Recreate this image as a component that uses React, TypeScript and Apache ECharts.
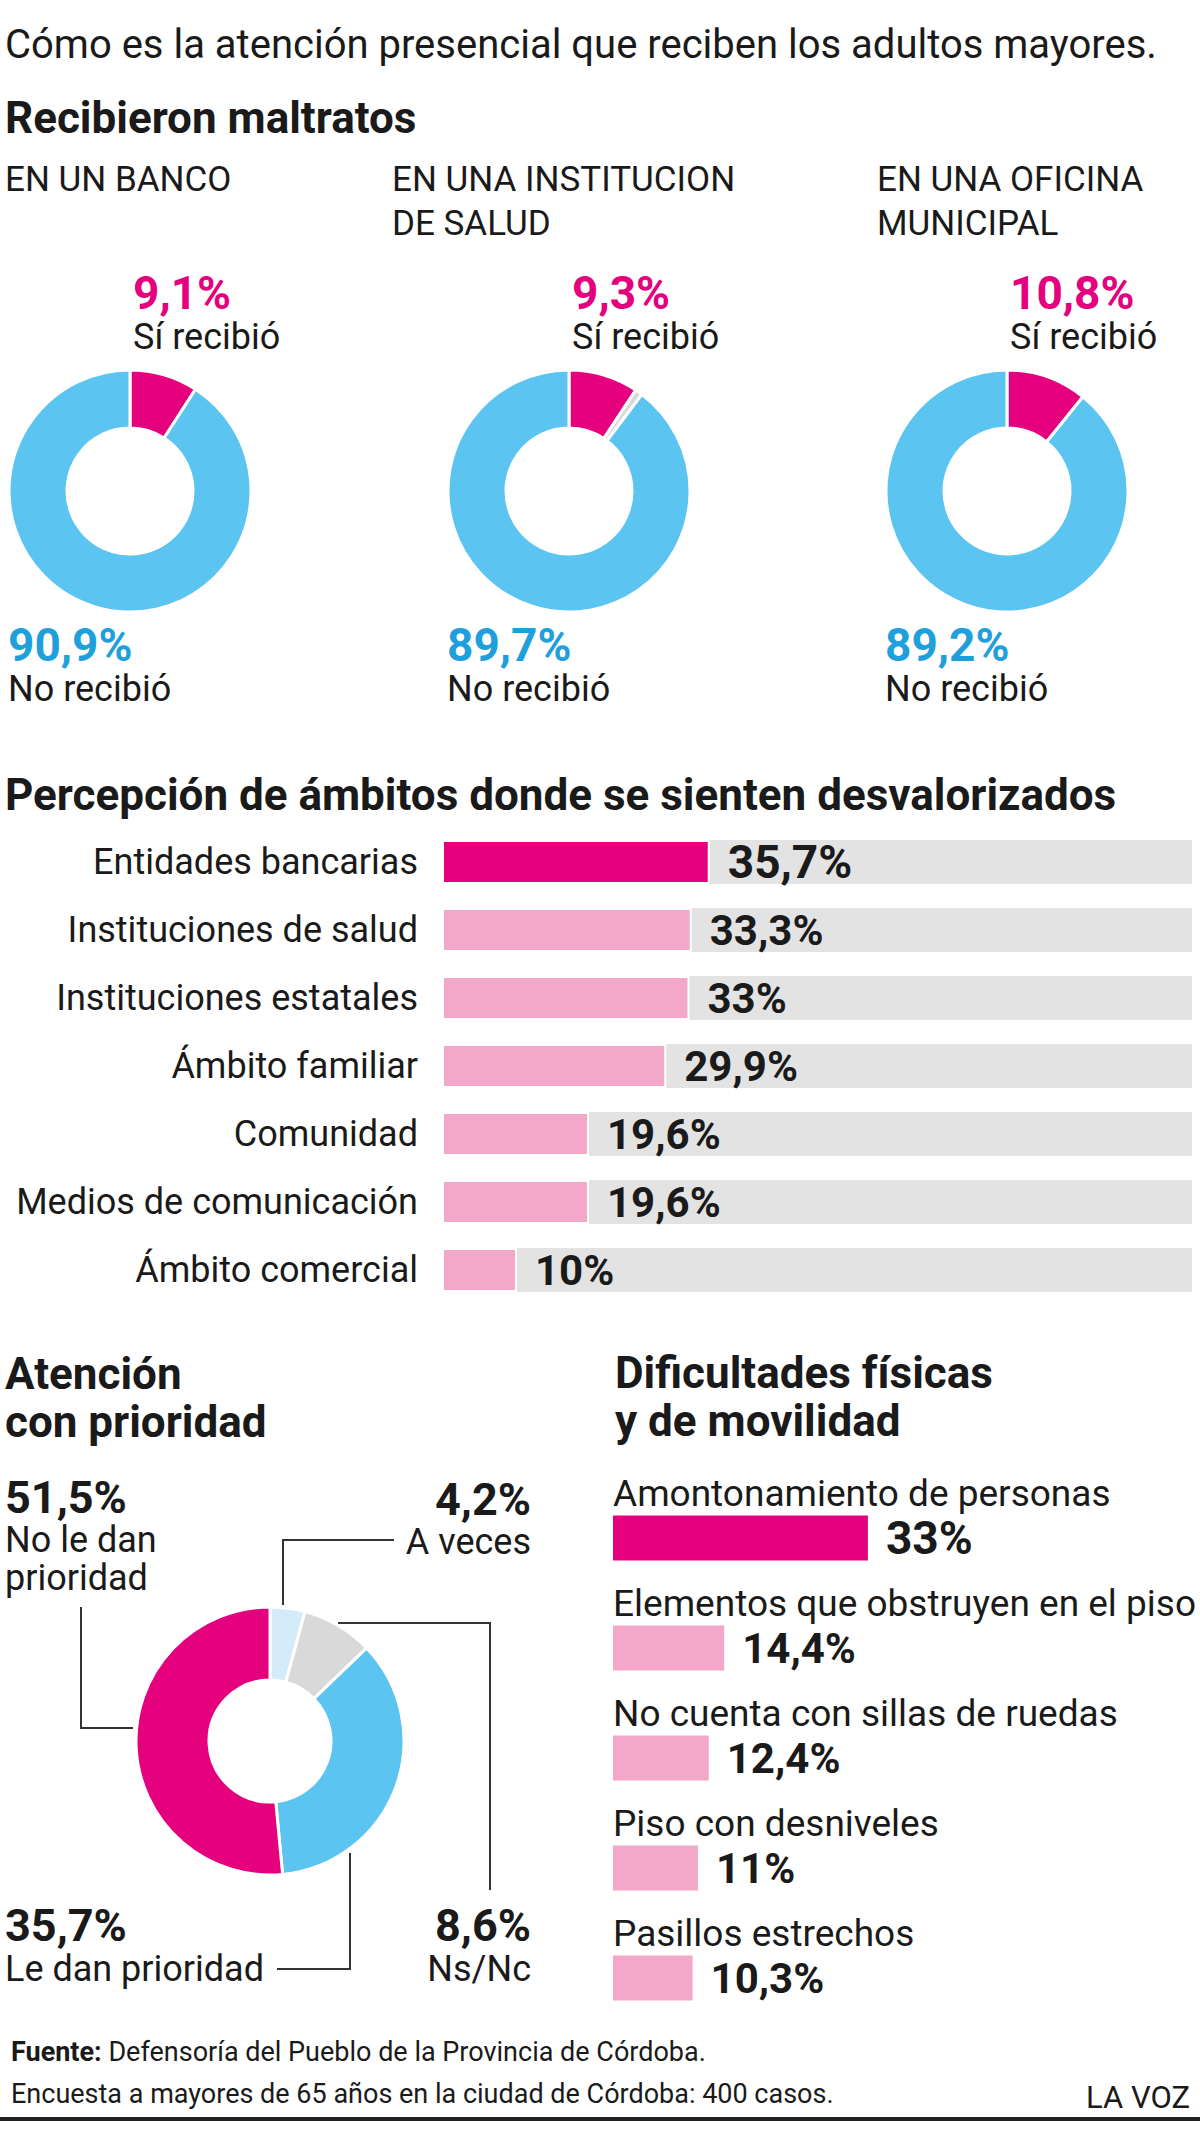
import React, { useEffect, useRef } from "react";
import * as echarts from "echarts";

// ---------- data ----------
const TITLE = "Cómo es la atención presencial que reciben los adultos mayores.";

const maltratoTitle = "Recibieron maltratos";
const maltratoPlaces = ["EN UN BANCO", "EN UNA INSTITUCION\nDE SALUD", "EN UNA OFICINA\nMUNICIPAL"];
const maltratoNames = ["Sí recibió", "Ns/Nc", "No recibió"];
const siRecibio = [9.1, 9.3, 10.8];
const nsNcMaltrato = [0, 1.0, 0];
const noRecibio = [90.9, 89.7, 89.2];

const ambitosTitle = "Percepción de ámbitos donde se sienten desvalorizados";
const ambitos = [
  "Entidades bancarias",
  "Instituciones de salud",
  "Instituciones estatales",
  "Ámbito familiar",
  "Comunidad",
  "Medios de comunicación",
  "Ámbito comercial",
];
const ambitosValues = [35.7, 33.3, 33, 29.9, 19.6, 19.6, 10];

const prioridadTitle = "Atención\ncon prioridad";
const prioridadNames = ["A veces", "Ns/Nc", "Le dan prioridad", "No le dan prioridad"];
const prioridadValues = [4.2, 8.6, 35.7, 51.5];

const dificultadesTitle = "Dificultades físicas\ny de movilidad";
const dificultades = [
  "Amontonamiento de personas",
  "Elementos que obstruyen en el piso",
  "No cuenta con sillas de ruedas",
  "Piso con desniveles",
  "Pasillos estrechos",
];
const dificultadesValues = [33, 14.4, 12.4, 11, 10.3];

const sourceLabel = "Fuente:";
const sourceLines = [
  "Defensoría del Pueblo de la Provincia de Córdoba.",
  "Encuesta a mayores de 65 años en la ciudad de Córdoba: 400 casos.",
];
const brand = "LA VOZ";

// ---------- styles ----------
const FONT = "Roboto, 'Noto Sans', 'DejaVu Sans', sans-serif";
const INK = "#1A1A1A";
const MAGENTA = "#E5007E";
const PINK = "#F3A8CA";
const BLUE = "#5BC4F1";
const BLUE_TEXT = "#1FA0DC";
const LIGHT_BLUE = "#D4ECFA";
const GREY_SLICE = "#D9D9D9";
const TRACK = "#E3E3E3";
const LINE = "#333333";

const fmt = (v: number) => String(v).replace(".", ",") + "%";

type TOpts = {
  bold?: boolean;
  color?: string;
  align?: string;
  valign?: string;
  lineHeight?: number;
  rich?: any;
};

function txt(text: string, x: number, y: number, size: number, o: TOpts = {}) {
  const style: any = {
    text,
    font: `${o.bold ? "bold " : ""}${size}px ${FONT}`,
    fill: o.color || INK,
    textAlign: o.align || "left",
    textVerticalAlign: o.valign || "middle",
    lineHeight: o.lineHeight || size,
  };
  if (o.rich) style.rich = o.rich;
  return { type: "text", x, y, silent: true, style };
}

function line(points: number[][]) {
  return {
    type: "polyline",
    silent: true,
    shape: { points },
    style: { stroke: LINE, lineWidth: 2, fill: null },
  };
}

function donut(center: number[], radius: number[], data: any[]) {
  return {
    type: "pie",
    center,
    radius,
    startAngle: 90,
    clockwise: true,
    silent: true,
    label: { show: false },
    labelLine: { show: false },
    emphasis: { disabled: true },
    itemStyle: { borderColor: "#fff", borderWidth: 3 },
    data,
  };
}

function buildOption() {
  const D_CENTERS = [
    [130, 491],
    [569, 491],
    [1007, 491],
  ];
  const D_RADIUS = [63, 121];
  const SUB_X = [5, 392, 877];

  const graphics: any[] = [];
  graphics.push(txt(TITLE, 5, 44, 40));
  graphics.push(txt(maltratoTitle, 5, 118, 44, { bold: true }));

  const pies: any[] = [];
  D_CENTERS.forEach((c, i) => {
    graphics.push(txt(maltratoPlaces[i], SUB_X[i], 157, 35, { valign: "top", lineHeight: 44 }));
    graphics.push(txt(fmt(siRecibio[i]), c[0] + 3, 293, 46, { bold: true, color: MAGENTA }));
    graphics.push(txt(maltratoNames[0], c[0] + 3, 337, 36));
    graphics.push(txt(fmt(noRecibio[i]), c[0] - 122, 645, 46, { bold: true, color: BLUE_TEXT }));
    graphics.push(txt(maltratoNames[2], c[0] - 122, 689, 36));

    const data: any[] = [{ name: maltratoNames[0], value: siRecibio[i], itemStyle: { color: MAGENTA } }];
    if (nsNcMaltrato[i] > 0) {
      data.push({ name: maltratoNames[1], value: nsNcMaltrato[i], itemStyle: { color: GREY_SLICE } });
    }
    data.push({ name: maltratoNames[2], value: noRecibio[i], itemStyle: { color: BLUE } });
    pies.push(donut(c, D_RADIUS, data));
  });

  graphics.push(txt(ambitosTitle, 5, 795, 44, { bold: true }));

  // Section 3: priority donut
  const P_CENTER = [270, 1741];
  const prioColors = [LIGHT_BLUE, GREY_SLICE, BLUE, MAGENTA];
  pies.push(
    donut(
      P_CENTER,
      [61, 134],
      prioridadValues.map((v, i) => ({ name: prioridadNames[i], value: v, itemStyle: { color: prioColors[i] } }))
    )
  );
  graphics.push(txt(prioridadTitle, 5, 1350, 44, { bold: true, valign: "top", lineHeight: 48 }));
  graphics.push(txt(fmt(prioridadValues[3]), 5, 1497, 45, { bold: true }));
  graphics.push(txt(prioridadNames[3].replace("dan ", "dan\n"), 5, 1521, 36, { valign: "top", lineHeight: 38 }));
  graphics.push(txt(fmt(prioridadValues[0]), 531, 1499, 45, { bold: true, align: "right" }));
  graphics.push(txt(prioridadNames[0], 531, 1542, 36, { align: "right" }));
  graphics.push(txt(fmt(prioridadValues[2]), 5, 1925, 45, { bold: true }));
  graphics.push(txt(prioridadNames[2], 5, 1969, 36));
  graphics.push(txt(fmt(prioridadValues[1]), 531, 1925, 45, { bold: true, align: "right" }));
  graphics.push(txt(prioridadNames[1], 531, 1969, 36, { align: "right" }));

  graphics.push(line([[81, 1607], [81, 1728], [133, 1728]]));
  graphics.push(line([[283, 1605], [283, 1540], [394, 1540]]));
  graphics.push(line([[338, 1623], [490, 1623], [490, 1890]]));
  graphics.push(line([[350, 1853], [350, 1969], [277, 1969]]));

  // Section 4 title
  graphics.push(txt(dificultadesTitle, 615, 1349, 44, { bold: true, valign: "top", lineHeight: 48 }));

  // Footer
  graphics.push(
    txt(`{b|${sourceLabel}} ${sourceLines[0]}`, 11, 2052, 27, {
      rich: { b: { font: `bold 27px ${FONT}`, fill: INK } },
    })
  );
  graphics.push(txt(sourceLines[1], 11, 2094, 27));
  graphics.push(txt(brand, 1190, 2097, 31, { align: "right" }));
  graphics.push({ type: "rect", silent: true, shape: { x: 0, y: 2117, width: 1200, height: 4 }, style: { fill: "#222" } });

  const valueLabel = {
    show: true,
    position: "right",
    distance: 18,
    fontFamily: FONT,
    fontWeight: "bold",
    fontSize: 42,
    color: INK,
    formatter: (p: any) => fmt(p.value),
  };

  return {
    animation: false,
    backgroundColor: "#ffffff",
    grid: [
      { left: 442, top: 828, width: 750, height: 476, outerBoundsMode: "none" },
      { left: 613, top: 1483, width: 587, height: 550, outerBoundsMode: "none" },
    ],
    xAxis: [
      { gridIndex: 0, type: "value", min: 0, max: 100, show: false },
      { gridIndex: 1, type: "value", min: 0, max: 76, show: false },
    ],
    yAxis: [
      {
        gridIndex: 0,
        type: "category",
        inverse: true,
        data: ambitos,
        axisLine: { show: false },
        axisTick: { show: false },
        splitLine: { show: false },
        axisLabel: { margin: 24, interval: 0, fontFamily: FONT, fontSize: 36, color: INK },
      },
      {
        gridIndex: 1,
        type: "category",
        inverse: true,
        data: dificultades,
        axisLine: { show: false },
        axisTick: { show: false },
        splitLine: { show: false },
        axisLabel: {
          inside: true,
          margin: 0,
          interval: 0,
          align: "left",
          verticalAlign: "bottom",
          padding: [0, 0, 26, 0],
          fontFamily: FONT,
          fontSize: 37,
          color: INK,
        },
      },
    ],
    series: [
      ...pies,
      {
        type: "bar",
        xAxisIndex: 0,
        yAxisIndex: 0,
        barWidth: 44,
        silent: true,
        showBackground: true,
        backgroundStyle: { color: TRACK },
        label: valueLabel,
        data: ambitosValues.map((v, i) => ({
          value: v,
          itemStyle: { color: i === 0 ? MAGENTA : PINK, borderColor: "#fff", borderWidth: 2 },
          label: i === 0 ? { fontSize: 46 } : undefined,
        })),
      },
      {
        type: "bar",
        xAxisIndex: 1,
        yAxisIndex: 1,
        barWidth: 45,
        silent: true,
        label: valueLabel,
        data: dificultadesValues.map((v, i) => ({
          value: v,
          itemStyle: { color: i === 0 ? MAGENTA : PINK },
          label: i === 0 ? { fontSize: 46 } : undefined,
        })),
      },
    ],
    graphic: { elements: graphics },
  };
}

export default function App() {
  const ref = useRef<HTMLDivElement>(null);
  useEffect(() => {
    if (!ref.current) return;
    const chart = echarts.init(ref.current, null, { renderer: "svg" });
    chart.setOption(buildOption() as any);
    return () => chart.dispose();
  }, []);
  return (
    <div
      ref={ref}
      style={{ position: "absolute", left: 0, top: 0, width: 1200, height: 2131, background: "#fff" }}
    />
  );
}
